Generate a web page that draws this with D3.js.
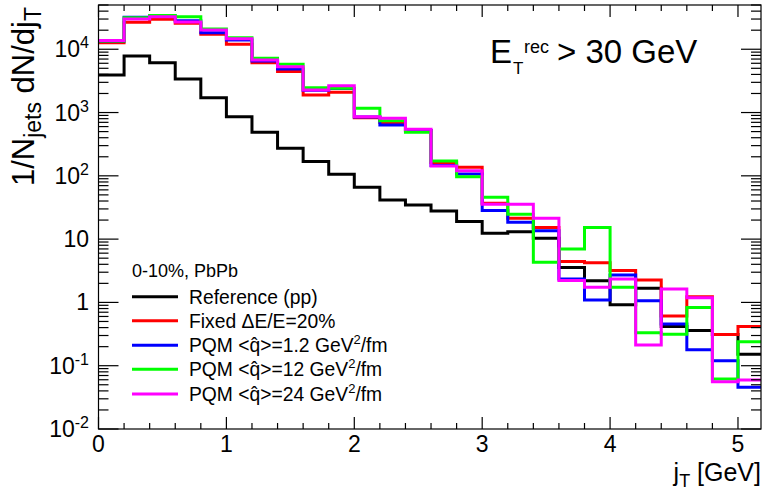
<!DOCTYPE html>
<html>
<head>
<meta charset="utf-8">
<script src="https://cdn.jsdelivr.net/npm/d3@7"></script>
<style>
  html, body { margin: 0; padding: 0; background: #fff; }
  svg text { font-family: "Liberation Sans", Arial, Helvetica, sans-serif; }
</style>
</head>
<body>
<svg id="chart" width="766" height="493"></svg>
<script>
// ---- data ----
const binEdges = d3.range(0, 27).map(i => +(i * 0.2).toFixed(1)); // 0 ... 5.2
const refPP   = [3930, 7840, 6140, 3400, 1720, 861, 489, 273, 168, 106, 66, 41.6, 34.7, 27.9, 18.9, 12.4, 13.1, 10.3, 3.55, 2.19, 0.92, 1.68, 0.415, 0.359, 0.31, 0.152];
const fixed20 = [12700, 26700, 29800, 25700, 17300, 12000, 6140, 4430, 1900, 2090, 830, 693, 520, 162, 137, 36.9, 21.4, 15.2, 4.41, 4.25, 3.18, 2.27, 0.612, 1.23, 0.31, 0.415];
const pqm1p2  = [13500, 32000, 33500, 28300, 18300, 14000, 6530, 4890, 2250, 2400, 850, 637, 520, 145, 107, 28.2, 18.5, 13.5, 2.35, 1.09, 2.72, 1.06, 0.458, 0.178, 0.120, 0.0457];
const pqm12   = [13500, 31500, 34000, 32700, 20900, 15200, 7210, 5790, 2470, 2420, 1170, 745, 489, 172, 97, 45.9, 24.7, 4.32, 7.0, 15.2, 1.74, 0.333, 0.315, 0.83, 0.0619, 0.240];
const pqm24   = [13700, 30100, 32700, 27000, 20200, 14600, 6780, 5310, 2280, 2660, 861, 813, 545, 143, 120, 35.6, 35.6, 21.4, 2.21, 1.74, 2.35, 0.213, 1.63, 1.18, 0.056, 0.0597];
const seriesNames = ["Reference (pp)", "Fixed \u0394E/E=20%", "PQM <q\u0302>=1.2 GeV", "PQM <q\u0302>=12 GeV", "PQM <q\u0302>=24 GeV"];
const seriesColors = ["#000000", "#ff0000", "#0000ff", "#00ff00", "#ff00ff"];
const seriesValues = [refPP, fixed20, pqm1p2, pqm12, pqm24];
const xTickValues = [0, 1, 2, 3, 4, 5];
const yTickValues = [1e4, 1e3, 1e2, 10, 1, 0.1, 0.01];
const yTickLabels = [["10","4"], ["10","3"], ["10","2"], ["10",""], ["1",""], ["10","-1"], ["10","-2"]];

// ---- layout ----
const svg = d3.select("#chart");
const L = 98.5, R = 761, T = 5, B = 429;
const x = d3.scaleLinear().domain([0, 5.18]).range([L, R]);
const y = d3.scaleLog().domain([0.01, 5e4]).range([B, T]);

svg.append("defs").append("clipPath").attr("id", "clip")
  .append("rect").attr("x", L).attr("y", T).attr("width", R - L).attr("height", B - T);

// histograms
const g = svg.append("g").attr("clip-path", "url(#clip)");
seriesValues.forEach((vals, si) => {
  let p = d3.path();
  vals.forEach((v, i) => {
    const x0 = x(binEdges[i]), x1 = x(binEdges[i + 1]), yy = y(v);
    if (i === 0) p.moveTo(x0, yy); else p.lineTo(x0, yy);
    p.lineTo(x1, yy);
  });
  g.append("path").attr("d", p.toString())
    .attr("fill", "none").attr("stroke", seriesColors[si])
    .attr("stroke-width", 3).attr("stroke-linejoin", "miter").attr("stroke-linecap", "square");
});

// frame
svg.append("rect").attr("x", L).attr("y", T).attr("width", R - L).attr("height", B - T)
  .attr("fill", "none").attr("stroke", "#000").attr("stroke-width", 1.2);

// x ticks (bottom & top)
const xMinor = d3.range(0, 26).map(i => +(i * 0.2).toFixed(1)).filter(v => x(v) < R - 0.5);
const axG = svg.append("g").attr("stroke", "#000").attr("stroke-width", 1.2);
xMinor.forEach(v => {
  const major = Math.abs(v - Math.round(v)) < 1e-6;
  const len = major ? 12 : 6;
  axG.append("line").attr("x1", x(v)).attr("x2", x(v)).attr("y1", B).attr("y2", B - len);
  axG.append("line").attr("x1", x(v)).attr("x2", x(v)).attr("y1", T).attr("y2", T + len);
});
// y ticks (left & right)
for (let e = -2; e <= 4; e++) {
  for (let m = 1; m <= 9; m++) {
    const v = m * Math.pow(10, e);
    if (v > 5e4) continue;
    const len = m === 1 ? 20 : 10;
    axG.append("line").attr("x1", L).attr("x2", L + len).attr("y1", y(v)).attr("y2", y(v));
    axG.append("line").attr("x1", R).attr("x2", R - len).attr("y1", y(v)).attr("y2", y(v));
  }
}

// x tick labels
xTickValues.forEach(v => {
  svg.append("text").attr("x", x(v)).attr("y", 452).attr("text-anchor", "middle")
    .attr("font-size", 23).text(v);
});
// y tick labels
yTickValues.forEach((v, i) => {
  const t = svg.append("text").attr("x", 89).attr("y", y(v) + 8).attr("text-anchor", "end").attr("font-size", 23);
  t.append("tspan").text(yTickLabels[i][0]);
  if (yTickLabels[i][1]) t.append("tspan").attr("dy", -9).attr("font-size", 16).text(yTickLabels[i][1]);
});

// axis titles
const xt = svg.append("text").attr("x", 761).attr("y", 481).attr("text-anchor", "end").attr("font-size", 25);
xt.append("tspan").text("j");
xt.append("tspan").attr("dy", 6).attr("font-size", 18).text("T");
xt.append("tspan").attr("dy", -6).text(" [GeV]");

const yt = svg.append("text").attr("transform", "translate(34,7) rotate(-90)").attr("text-anchor", "end").attr("font-size", 31);
yt.append("tspan").text("1/N");
yt.append("tspan").attr("dy", 7).attr("font-size", 23).text("jets");
yt.append("tspan").attr("dy", -7).text(" dN/dj");
yt.append("tspan").attr("dy", 7).attr("font-size", 23).text("T");

// E_T^rec label
svg.append("text").attr("x", 490).attr("y", 62.7).attr("font-size", 33).text("E");
svg.append("text").attr("x", 513).attr("y", 73.5).attr("font-size", 17).text("T");
svg.append("text").attr("x", 524).attr("y", 53.3).attr("font-size", 18).text("rec");
svg.append("text").attr("x", 557).attr("y", 62.7).attr("font-size", 33).text("> 30 GeV");

// legend
svg.append("text").attr("x", 132).attr("y", 277).attr("font-size", 18).text("0-10%, PbPb");
const legY = [296.7, 320.7, 345.3, 369.3, 394];
seriesNames.forEach((name, i) => {
  svg.append("line").attr("x1", 132).attr("x2", 178).attr("y1", legY[i]).attr("y2", legY[i])
    .attr("stroke", seriesColors[i]).attr("stroke-width", 3);
  const t = svg.append("text").attr("x", 189).attr("y", legY[i] + 7).attr("font-size", 19.3);
  t.append("tspan").text(name);
  if (i >= 2) {
    t.append("tspan").attr("dy", -8).attr("font-size", 13).text("2");
    t.append("tspan").attr("dy", 8).text("/fm");
  }
});
</script>
</body>
</html>
